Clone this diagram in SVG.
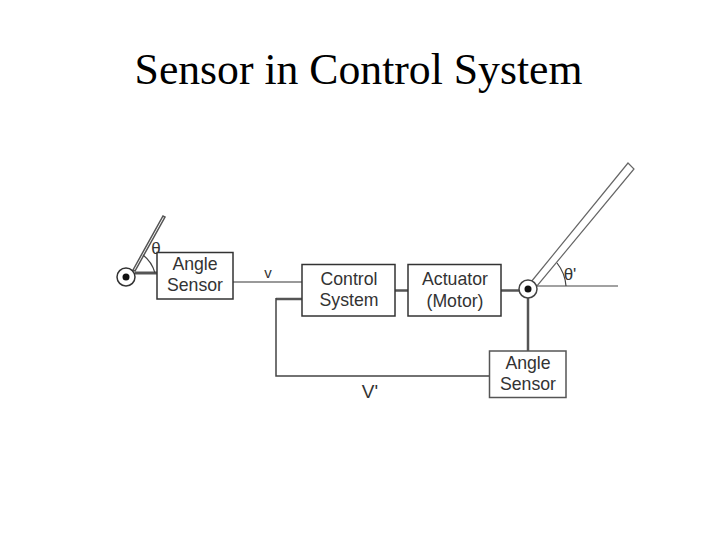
<svg xmlns="http://www.w3.org/2000/svg" width="720" height="540" viewBox="0 0 720 540">
<style>
.box{fill:#fff;stroke:#333;stroke-width:1.5}
.w{fill:none;stroke:#555;stroke-width:2}
.t{fill:none;stroke:#444;stroke-width:1.2}
.arm{fill:#fff;stroke:#666;stroke-width:1.2}
.l{font-family:"Liberation Sans",Arial,sans-serif;font-size:17.700px;fill:#333;text-anchor:middle}
</style>
<rect width="720" height="540" fill="#fff"/>
<text x="358.500" y="84" text-anchor="middle" font-family="'Liberation Serif','Times New Roman',serif" font-size="43.700" fill="#000">Sensor in Control System</text>
<g id="connectors">
<path class="w" d="M135 273H157" style="stroke-width:3"/>
<path class="w" d="M233 282H302" style="stroke:#999"/>
<path class="w" d="M302 299H276" style="stroke-width:2.500"/>
<path class="t" d="M276 298V376H489.500" style="stroke-width:1.500"/>
<path class="w" d="M395 290.500H408" style="stroke-width:2.500"/>
<path class="w" d="M501 290.500H519" style="stroke-width:2.500"/>
<path class="w" d="M528 298V351" style="stroke-width:2.500"/>
<path class="t" d="M537 286H618"/>
</g>
<g id="left-arm">
<polygon class="arm" points="133,270 163,216 165,217 135,271" style="stroke:#555;stroke-width:1.500"/>
<path class="t" d="M143 255Q152 262 155 273"/>
<text class="l" x="156" y="254" style="font-size:17px">θ</text>
</g>
<g id="left-pivot">
<circle cx="126" cy="277" r="9" fill="#fff" stroke="#333" stroke-width="1.500"/>
<circle cx="126" cy="277" r="3.500" fill="#111"/>
</g>
<g id="angle-sensor-1">
<rect class="box" x="157" y="252.500" width="76" height="46.500"/>
<text class="l" x="195" y="270">Angle</text>
<text class="l" x="195" y="291">Sensor</text>
</g>
<text id="label-v" class="l" x="268" y="278" style="font-size:15px">v</text>
<g id="control-system">
<rect class="box" x="302" y="264.500" width="93" height="51.500"/>
<text class="l" x="349" y="285">Control</text>
<text class="l" x="349" y="306">System</text>
</g>
<g id="actuator">
<rect class="box" x="408" y="264.500" width="93" height="51.500"/>
<text class="l" x="455" y="285">Actuator</text>
<text class="l" x="455" y="307">(Motor)</text>
</g>
<g id="right-arm">
<polygon class="arm" points="531,282 628,163 634,169 537,286"/>
<path class="t" d="M557 263Q565 273 566 286"/>
<text class="l" x="570" y="280" style="font-size:17px">θ'</text>
</g>
<g id="right-pivot">
<circle cx="528" cy="289" r="9" fill="#fff" stroke="#444" stroke-width="1.500"/>
<circle cx="528" cy="289" r="3.500" fill="#111"/>
</g>
<g id="angle-sensor-2">
<rect class="box" x="489.500" y="351" width="76.500" height="46.500" style="stroke:#555"/>
<text class="l" x="528" y="369">Angle</text>
<text class="l" x="528" y="390">Sensor</text>
</g>
<text id="label-v-prime" class="l" x="370" y="398" style="font-size:19px">V'</text>
</svg>
